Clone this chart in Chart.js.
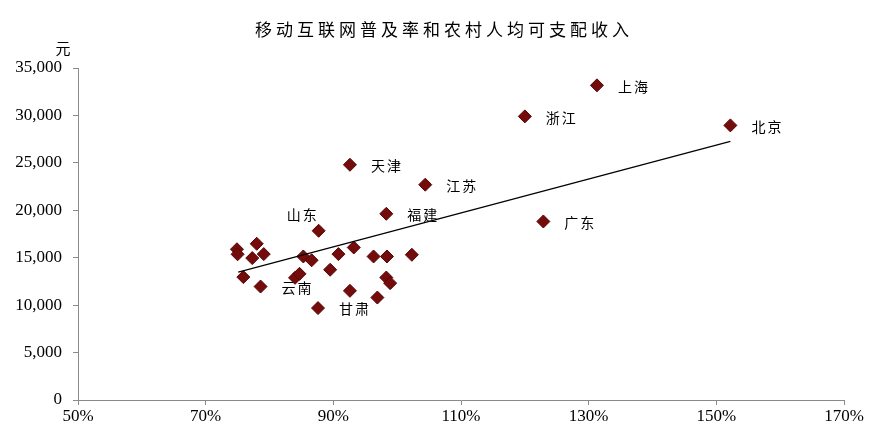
<!DOCTYPE html>
<html>
<head>
<meta charset="utf-8">
<script src="https://cdn.jsdelivr.net/npm/chart.js@4.4.1/dist/chart.umd.min.js"></script>
<style>
html, body { margin: 0; padding: 0; background: #fff; }
#wrap { width: 884px; height: 443px; }
</style>
</head>
<body>
<div id="wrap"><canvas id="scatterChart"></canvas></div>
<script>
const chartTitle = '移动互联网普及率和农村人均可支配收入';
const yUnit = '元';

// provinces without a label in the picture are left blank
const provinces = [
    '', '', '', '', '', '', '云南', '山东', '', '',
    '', '', '', '', '', '', '', '', '', '',
    '', '', '甘肃', '天津', '江苏', '福建', '上海', '浙江', '广东', '北京'
];
// mobile internet penetration, %
const penetration = [
    74.9, 75.0, 78.0, 77.3, 79.1, 75.9, 78.6, 87.7, 85.3, 86.6,
    84.0, 84.7, 89.5, 90.8, 93.2, 92.6, 96.3, 98.4, 102.3, 98.3,
    98.9, 96.9, 87.6, 92.6, 104.4, 98.3, 131.3, 120.0, 122.9, 152.2
];
// rural per capita disposable income, yuan
const income = [
    15890, 15360, 16470, 14960, 15380, 12960, 11960, 17840, 15130, 14730,
    12880, 13300, 13730, 15380, 16080, 11510, 15130, 15130, 15310, 12910,
    12320, 10800, 9690, 24800, 22700, 19630, 33170, 29900, 18820, 28950
];

// trend line end points as drawn in the picture
const trendPenetration = [75.1, 152.2];
const trendIncome = [13480, 27260];

const xTickValues = [50, 70, 90, 110, 130, 150, 170];
const yTickValues = [0, 5000, 10000, 15000, 20000, 25000, 30000, 35000];

const tickFont = { family: '"Liberation Serif", "Times New Roman", serif', size: 17 };
const axisGray = '#8a8a8a';

const extraText = {
    id: 'extraText',
    afterDraw(chart) {
        const ctx = chart.ctx;
        const xs = chart.scales.x;
        const ys = chart.scales.y;
        ctx.save();
        ctx.fillStyle = '#000';
        ctx.textBaseline = 'middle';

        // title
        ctx.font = '17px "Noto Sans CJK SC"';
        ctx.letterSpacing = '4px';
        ctx.textAlign = 'center';
        ctx.fillText(chartTitle, chart.width / 2 + 2, 30);

        // unit above y axis
        ctx.letterSpacing = '0px';
        ctx.font = '15px "Noto Sans CJK SC"';
        ctx.fillText(yUnit, 63, 48);

        // province names
        ctx.font = '14px "Noto Sans CJK SC"';
        ctx.letterSpacing = '2px';
        provinces.forEach((name, i) => {
            if (!name) return;
            const px = xs.getPixelForValue(penetration[i]);
            const py = ys.getPixelForValue(income[i]);
            if (name === '山东') {
                ctx.textAlign = 'right';
                ctx.fillText(name, px, py - 16);
            } else {
                ctx.textAlign = 'left';
                ctx.fillText(name, px + 21, py + 1);
            }
        });
        ctx.restore();
    }
};

new Chart(document.getElementById('scatterChart'), {
    type: 'scatter',
    data: {
        datasets: [
            {
                type: 'line',
                label: 'trend',
                data: trendPenetration.map((x, i) => ({ x: x, y: trendIncome[i] })),
                borderColor: '#000',
                borderWidth: 1.2,
                pointRadius: 0,
                fill: false,
                order: 0
            },
            {
                label: 'provinces',
                data: penetration.map((x, i) => ({ x: x, y: income[i] })),
                pointStyle: 'rectRot',
                pointRadius: 6.5,
                backgroundColor: '#740c0c',
                borderColor: '#560606',
                borderWidth: 1,
                order: 1
            }
        ]
    },
    options: {
        responsive: true,
        maintainAspectRatio: false,
        animation: false,
        layout: { padding: { top: 68, right: 40, left: 0, bottom: 0 } },
        plugins: {
            legend: { display: false },
            tooltip: { enabled: false },
            title: { display: false }
        },
        scales: {
            x: {
                type: 'linear',
                min: 50,
                max: 170,
                afterBuildTicks: s => { s.ticks = xTickValues.map(v => ({ value: v })); },
                afterFit: s => { s.height = 43; },
                ticks: {
                    color: '#000',
                    font: tickFont,
                    padding: 1,
                    callback: v => v + '%'
                },
                grid: { drawOnChartArea: false, drawTicks: true, tickLength: 5, color: axisGray },
                border: { display: true, color: axisGray }
            },
            y: {
                type: 'linear',
                min: 0,
                max: 35000,
                afterBuildTicks: s => { s.ticks = yTickValues.map(v => ({ value: v })); },
                afterFit: s => { s.width = 78; },
                ticks: {
                    color: '#000',
                    font: tickFont,
                    padding: 11,
                    callback: v => v.toLocaleString('en-US')
                },
                grid: { drawOnChartArea: false, drawTicks: true, tickLength: 5, color: axisGray },
                border: { display: true, color: axisGray }
            }
        }
    },
    plugins: [extraText]
});
</script>
</body>
</html>
